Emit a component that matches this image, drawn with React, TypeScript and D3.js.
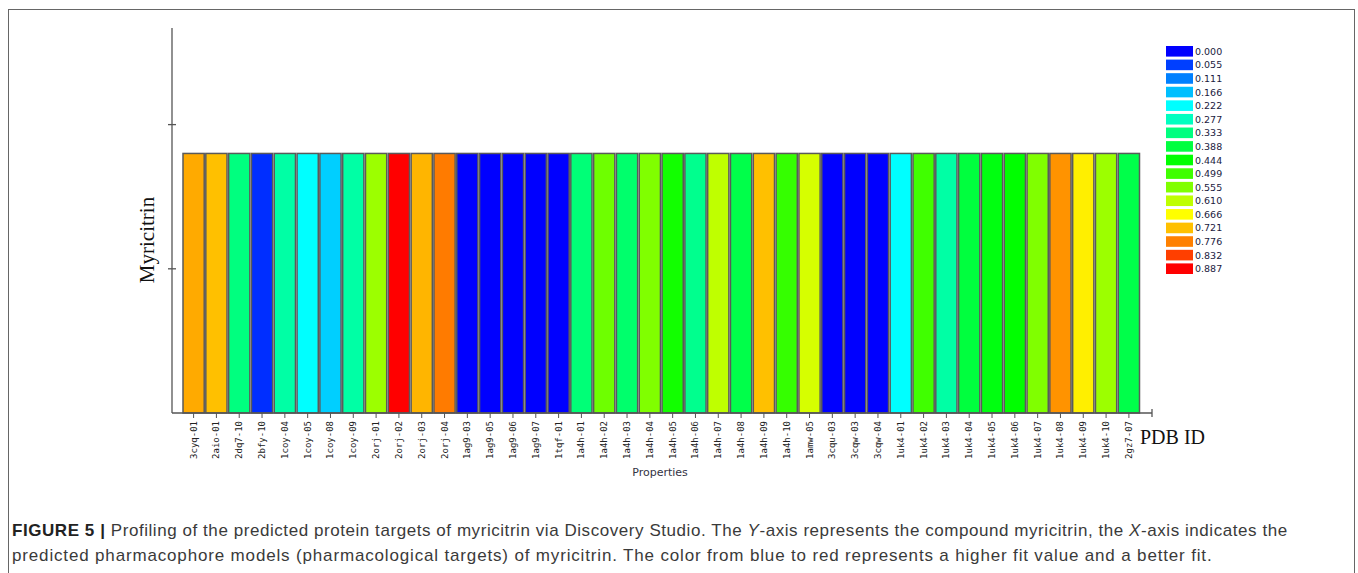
import React from "react";
import * as d3 from "d3";

const categories = [
  "3cyq-01", "2aio-01", "2dq7-10", "2bfy-10", "1coy-04", "1coy-05", "1coy-08", "1coy-09",
  "2orj-01", "2orj-02", "2orj-03", "2orj-04", "1ag9-03", "1ag9-05", "1ag9-06", "1ag9-07",
  "1tqf-01", "1a4h-01", "1a4h-02", "1a4h-03", "1a4h-04", "1a4h-05", "1a4h-06", "1a4h-07",
  "1a4h-08", "1a4h-09", "1a4h-10", "1amw-05", "3cqu-03", "3cqw-03", "3cqw-04", "1uk4-01",
  "1uk4-02", "1uk4-03", "1uk4-04", "1uk4-05", "1uk4-06", "1uk4-07", "1uk4-08", "1uk4-09",
  "1uk4-10", "2gz7-07",
];

const fitValues = [
  0.74, 0.721, 0.333, 0.04, 0.30, 0.222, 0.18, 0.30,
  0.58, 0.887, 0.73, 0.78, 0.0, 0.0, 0.0, 0.0,
  0.0, 0.34, 0.54, 0.35, 0.555, 0.46, 0.32, 0.61,
  0.38, 0.721, 0.49, 0.63, 0.0, 0.0, 0.0, 0.222,
  0.50, 0.30, 0.39, 0.43, 0.444, 0.555, 0.76, 0.68,
  0.58, 0.38,
];

const legendValues = [
  "0.000", "0.055", "0.111", "0.166", "0.222", "0.277", "0.333", "0.388", "0.444",
  "0.499", "0.555", "0.610", "0.666", "0.721", "0.776", "0.832", "0.887",
];

const compound = "Myricitrin";
const compoundLevel = 1.8;
const yTicks = [1, 2];
const yMax = 2.67;

const colorStops = [0, 0.222, 0.444, 0.666, 0.887];
const colorRange = ["#0000ff", "#00ffff", "#00ff00", "#ffff00", "#ff0000"];

export default function App() {
  const W = 1358;
  const H = 573;
  const axisX = 172;
  const axisY = 413;
  const xEnd = 1152;

  const x = d3.scaleBand<string>().domain(categories).range([183, 1139.5]).paddingInner(0.07).paddingOuter(0);
  const y = d3.scaleLinear().domain([0, yMax]).range([axisY, 28]);
  const color = d3.scaleLinear<string>().domain(colorStops).range(colorRange).interpolate(d3.interpolateRgb).clamp(true);

  const legendY = d3.scaleBand<string>().domain(legendValues).range([46, 274]).paddingInner(0.22);

  const axisColor = "#555";
  const capFont = "'Liberation Sans', Arial, sans-serif";

  return (
    <svg width={W} height={H} style={{ position: "absolute", left: 0, top: 0, background: "#fff" }}>
      <rect x={8.5} y={9.5} width={1346} height={580} fill="#fff" stroke="#666" strokeWidth={1} />

      {/* bars */}
      {categories.map((c, i) => (
        <rect
          key={c}
          x={x(c)}
          y={y(compoundLevel)}
          width={x.bandwidth()}
          height={axisY - y(compoundLevel)}
          fill={color(fitValues[i])}
          stroke="#5a5a5a"
          strokeWidth={1.5}
        />
      ))}

      {/* y axis */}
      <line x1={axisX} x2={axisX} y1={28} y2={axisY} stroke={axisColor} strokeWidth={1.3} />
      {yTicks.map((t) => (
        <line key={t} x1={axisX - 4} x2={axisX + 4} y1={y(t)} y2={y(t)} stroke={axisColor} strokeWidth={1.3} />
      ))}
      <text
        transform={`translate(154,${240}) rotate(-90)`}
        textAnchor="middle"
        fontFamily="'Liberation Serif', 'Times New Roman', serif"
        fontSize={21}
        fill="#111"
      >
        {compound}
      </text>

      {/* x axis */}
      <line x1={axisX} x2={xEnd} y1={axisY} y2={axisY} stroke={axisColor} strokeWidth={1.3} />
      <line x1={xEnd} x2={xEnd} y1={axisY - 4} y2={axisY + 4} stroke={axisColor} strokeWidth={1.3} />
      {categories.map((c) => {
        const cx = (x(c) as number) + x.bandwidth() / 2;
        return (
          <g key={c}>
            <line x1={cx} x2={cx} y1={axisY} y2={axisY + 5} stroke={axisColor} strokeWidth={1} />
            <text
              transform={`translate(${cx + 3},${axisY + 8}) rotate(-90)`}
              textAnchor="end"
              fontFamily="'DejaVu Sans Mono', monospace"
              fontSize={9}
              fill="#222"
            >
              {c}
            </text>
          </g>
        );
      })}
      <text x={660} y={476} textAnchor="middle" fontFamily="'DejaVu Sans', sans-serif" fontSize={11} fill="#333344">
        Properties
      </text>
      <text x={1140} y={444} fontFamily="'Liberation Serif', 'Times New Roman', serif" fontSize={20} fill="#111">
        PDB ID
      </text>

      {/* legend */}
      {legendValues.map((v) => (
        <g key={v}>
          <rect x={1166} y={legendY(v)} width={27} height={legendY.bandwidth()} fill={color(+v)} />
          <text
            x={1195}
            y={(legendY(v) as number) + legendY.bandwidth() / 2 + 3.5}
            fontFamily="'DejaVu Sans', sans-serif"
            fontSize={9.5}
            fill="#1a1a40"
          >
            {v}
          </text>
        </g>
      ))}

      {/* caption */}
      <text x={12} y={536} fontFamily={capFont} fontSize={17} letterSpacing={0.56} fill="#3a3a3a">
        <tspan fontWeight="bold" fill="#222">FIGURE 5 | </tspan>
        <tspan>
          Profiling of the predicted protein targets of myricitrin via Discovery Studio. The{" "}
        </tspan>
        <tspan fontStyle="italic">Y</tspan>
        <tspan>-axis represents the compound myricitrin, the </tspan>
        <tspan fontStyle="italic">X</tspan>
        <tspan>-axis indicates the</tspan>
      </text>
      <text x={12} y={561} fontFamily={capFont} fontSize={17} letterSpacing={0.84} fill="#3a3a3a">
        predicted pharmacophore models (pharmacological targets) of myricitrin. The color from blue to red represents a higher fit value and a better fit.
      </text>
    </svg>
  );
}
